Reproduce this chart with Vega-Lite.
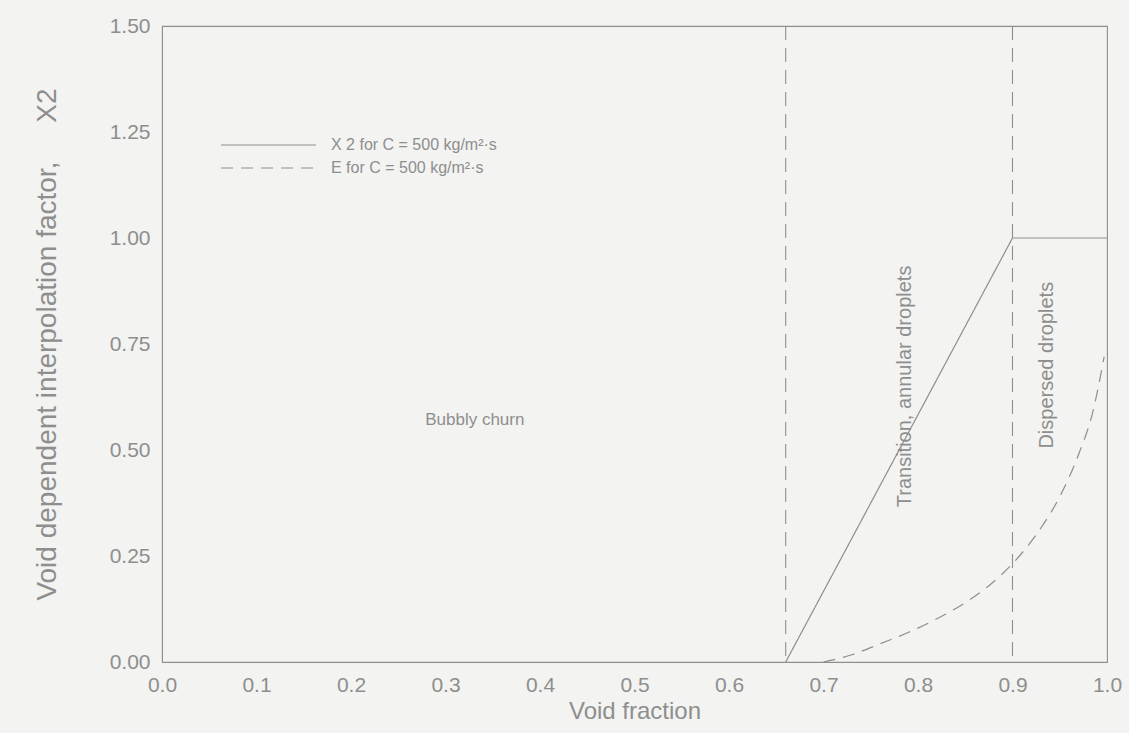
{
  "$schema": "https://vega.github.io/schema/vega-lite/v6.json",
  "width": 945,
  "height": 636,
  "autosize": "none",
  "padding": {"left": 162, "top": 26, "right": 22, "bottom": 71},
  "background": "#f3f3f1",
  "config": {
    "font": "Liberation Sans",
    "view": {"stroke": "#8e8e8e", "strokeWidth": 1.1},
    "axis": {
      "grid": false,
      "domainColor": "#8e8e8e",
      "tickColor": "#8e8e8e",
      "labelColor": "#8e8e8e",
      "titleColor": "#8e8e8e",
      "labelFont": "Liberation Sans",
      "titleFont": "Liberation Sans",
      "labelFontSize": 21,
      "titleFontSize": 24,
      "titleFontWeight": "normal"
    }
  },
  "datasets": {
    "x2": [
      {"x": 0.66, "y": 0.0, "series": "X 2 for C = 500 kg/m²·s"},
      {"x": 0.9, "y": 1.0, "series": "X 2 for C = 500 kg/m²·s"},
      {"x": 1.0, "y": 1.0, "series": "X 2 for C = 500 kg/m²·s"}
    ],
    "e": [
      {"x": 0.70, "y": 0.0, "series": "E for C = 500 kg/m²·s"},
      {"x": 0.73, "y": 0.017, "series": "E for C = 500 kg/m²·s"},
      {"x": 0.76, "y": 0.043, "series": "E for C = 500 kg/m²·s"},
      {"x": 0.79, "y": 0.07, "series": "E for C = 500 kg/m²·s"},
      {"x": 0.82, "y": 0.102, "series": "E for C = 500 kg/m²·s"},
      {"x": 0.85, "y": 0.14, "series": "E for C = 500 kg/m²·s"},
      {"x": 0.875, "y": 0.18, "series": "E for C = 500 kg/m²·s"},
      {"x": 0.90, "y": 0.232, "series": "E for C = 500 kg/m²·s"},
      {"x": 0.925, "y": 0.3, "series": "E for C = 500 kg/m²·s"},
      {"x": 0.95, "y": 0.39, "series": "E for C = 500 kg/m²·s"},
      {"x": 0.97, "y": 0.49, "series": "E for C = 500 kg/m²·s"},
      {"x": 0.985, "y": 0.59, "series": "E for C = 500 kg/m²·s"},
      {"x": 0.997, "y": 0.72, "series": "E for C = 500 kg/m²·s"}
    ],
    "bounds": [{"x": 0.66}, {"x": 0.9}],
    "labelsH": [{"x": 0.331, "y": 0.57, "label": "Bubbly churn"}],
    "labelsV": [
      {"x": 0.786, "y": 0.65, "label": "Transition, annular droplets"},
      {"x": 0.937, "y": 0.70, "label": "Dispersed droplets"}
    ]
  },
  "encoding": {
    "x": {
      "field": "x", "type": "quantitative",
      "scale": {"domain": [0, 1], "nice": false, "zero": false},
      "axis": {"values": [0, 0.1, 0.2, 0.3, 0.4, 0.5, 0.6, 0.7, 0.8, 0.9, 1.0], "format": ".1f", "tickSize": 0, "labelPadding": 12, "title": "Void fraction", "titlePadding": 4, "labelFlush": false}
    },
    "y": {
      "field": "y", "type": "quantitative",
      "scale": {"domain": [0, 1.5], "nice": false},
      "axis": {"values": [0, 0.25, 0.5, 0.75, 1.0, 1.25, 1.5], "format": ".2f", "tickSize": 0, "labelPadding": 12, "title": "Void dependent interpolation factor,\u00a0\u00a0\u00a0\u00a0\u00a0X2", "titleFontSize": 28, "titlePadding": 48, "labelFlush": false, "titleLimit": 700}
    }
  },
  "layer": [
    {
      "data": {"name": "bounds"},
      "mark": {"type": "rule", "color": "#8e8e8e", "strokeWidth": 1.1, "strokeDash": [14, 8]},
      "encoding": {"x": {"field": "x", "type": "quantitative"}, "y": {"value": 0}, "y2": {"value": 636}}
    },
    {
      "data": {"name": "x2"},
      "mark": {"type": "line", "color": "#8e8e8e", "strokeWidth": 1.2},
      "encoding": {
        "strokeDash": {
          "field": "series", "type": "nominal",
          "scale": {"domain": ["X 2 for C = 500 kg/m²·s", "E for C = 500 kg/m²·s"], "range": [[1, 0], [12, 8]]},
          "legend": {
            "orient": "none", "legendX": 58, "legendY": 110, "title": null,
            "symbolType": "stroke", "symbolSize": 9000, "symbolStrokeColor": "#9a9a9a", "symbolStrokeWidth": 1.2,
            "clipHeight": 18, "rowPadding": 5, "labelLimit": 400,
            "labelFontSize": 16, "labelColor": "#8e8e8e", "labelOffset": 14
          }
        }
      }
    },
    {
      "data": {"name": "e"},
      "mark": {"type": "line", "color": "#8e8e8e", "strokeWidth": 1.2, "interpolate": "monotone"},
      "encoding": {
        "strokeDash": {"field": "series", "type": "nominal"}
      }
    },
    {
      "data": {"name": "labelsH"},
      "mark": {"type": "text", "fontSize": 17, "color": "#8e8e8e"},
      "encoding": {"text": {"field": "label"}}
    },
    {
      "data": {"name": "labelsV"},
      "mark": {"type": "text", "fontSize": 20, "color": "#8e8e8e", "angle": 270},
      "encoding": {"text": {"field": "label"}}
    }
  ]
}
